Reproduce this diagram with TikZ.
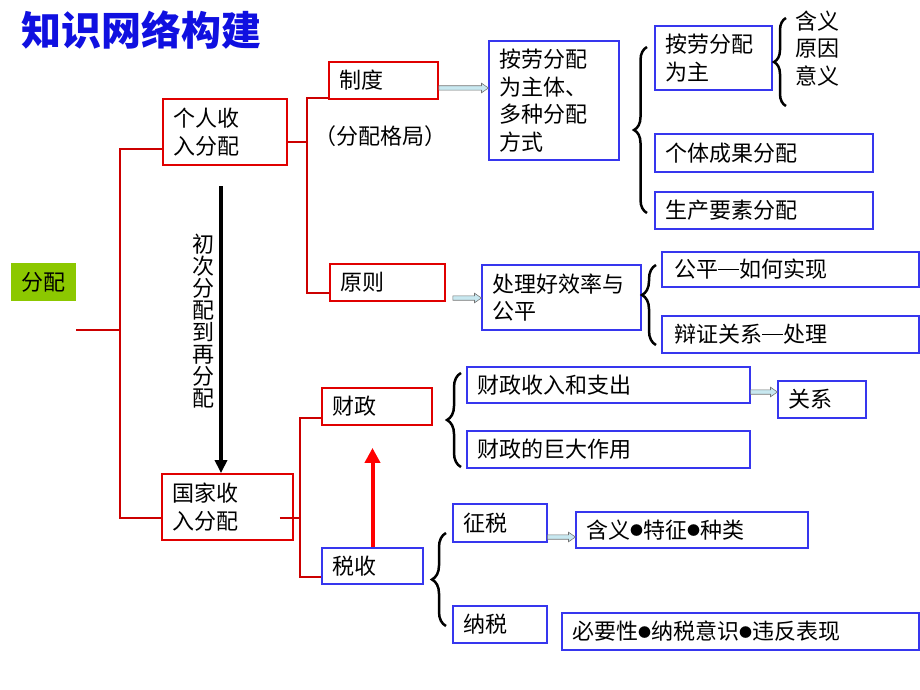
\documentclass[tikz,border=0pt]{standalone}
\usepackage{fontspec}
\setmainfont{Noto Sans CJK SC}
\usetikzlibrary{arrows.meta,calc,decorations.pathreplacing}
\definecolor{lred}{HTML}{CC0000}
\definecolor{bred}{HTML}{E00000}
\definecolor{bblue}{HTML}{3636EE}
\definecolor{fgreen}{HTML}{8CC800}
\definecolor{tblue}{HTML}{1010E0}
\definecolor{afill}{HTML}{C8E8F0}
\newcommand{\mydot}{\raisebox{2.5pt}{\fontsize{13}{13}\selectfont ●}}
\newcommand{\mydash}{\rule[7.5pt]{21pt}{1.8pt}}
\begin{document}
\begin{tikzpicture}[x=1pt,y=-1pt,
  txt/.style={font=\fontsize{22}{27.5}\selectfont},
  box/.style={txt, draw, inner xsep=10pt, inner ysep=0pt, align=left, anchor=center},
  rbox/.style={box, draw=bred, line width=1.8pt},
  bbox/.style={box, draw=bblue, line width=1.1pt},
  redline/.style={draw=lred, line width=2.3pt},
  bracestyle/.style={draw=black, line width=2.5pt, decorate, decoration={brace, amplitude=13pt}},
  blockarrow/.style={draw=black!55, fill=afill, line width=0.6pt, to path={
    let \p1=(\tikztostart), \p2=(\tikztotarget) in
    (\x1,\y1+2.2pt) -- (\x2-7pt,\y1+2.2pt) -- (\x2-7pt,\y1+4.8pt) -- (\x2,\y1)
    -- (\x2-7pt,\y1-4.8pt) -- (\x2-7pt,\y1-2.2pt) -- (\x1,\y1-2.2pt) -- cycle}},
  blackarrow/.style={draw=black, line width=3.5pt, -{Triangle[length=13pt,width=12pt]}},
  redarrow/.style={draw=red, line width=4pt, -{Triangle[length=15pt,width=15pt]}}
]
\useasboundingbox (0,0) rectangle (920,690);

% title
\node[anchor=west, inner sep=0, text=tblue, font=\fontsize{40}{40}\selectfont\bfseries] (title) at (21,30) {知识网络构建};

% root
\node[txt, fill=fgreen, minimum width=65pt, minimum height=38pt, inner sep=0] (fp) at (43.5,282) {分配};

% red boxes
\node[rbox, text width=104pt, minimum height=66pt] (gr) at (225,132) {个人收\\入分配};
\node[rbox, text width=111pt, minimum height=66pt] (gj) at (227.5,507) {国家收\\入分配};
\node[rbox, text width=89pt, minimum height=37pt] (zd) at (383.5,80.5) {制度};
\node[rbox, text width=95pt, minimum height=37pt] (yz) at (387.5,282.5) {原则};
\node[rbox, text width=90pt, minimum height=37pt] (cz) at (377,406.5) {财政};

% blue boxes
\node[bbox, text width=81pt, minimum height=36pt] (ss) at (372.5,566) {税收};
\node[bbox, text width=110pt, minimum height=119pt] (al) at (554,100.5) {按劳分配\\为主体、\\多种分配\\方式};
\node[bbox, text width=97pt, minimum height=64pt] (lz) at (713.5,58) {按劳分配\\为主};
\node[bbox, text width=198pt, minimum height=38pt] (gt) at (764,153) {个体成果分配};
\node[bbox, text width=198pt, minimum height=37pt] (sc) at (764,210.5) {生产要素分配};
\node[bbox, text width=139pt, minimum height=65pt] (cl) at (561.5,297.5) {处理好效率与\\公平};
\node[bbox, inner xsep=12pt, text width=233pt, minimum height=35pt] (gp) at (790.5,269.5) {公平\mydash 如何实现};
\node[bbox, inner xsep=12pt, text width=233pt, minimum height=37pt] (bz) at (790.5,334.5) {辩证关系\mydash 处理};
\node[bbox, text width=263pt, minimum height=36pt] (sr) at (608.5,385) {财政收入和支出};
\node[bbox, text width=263pt, minimum height=37pt] (zy) at (608.5,449.5) {财政的巨大作用};
\node[bbox, text width=68pt, minimum height=37pt] (gx) at (822,399.5) {关系};
\node[bbox, text width=74pt, minimum height=38pt] (zs) at (500,523) {征税};
\node[bbox, text width=212pt, minimum height=36pt] (hy) at (692,530) {含义\mydot 特征\mydot 种类};
\node[bbox, text width=74pt, minimum height=37pt] (ns) at (500,624.5) {纳税};
\node[bbox, text width=337pt, minimum height=37pt] (by) at (740.5,631.5) {必要性\mydot 纳税意识\mydot 违反表现};

% free texts
\node[txt, inner sep=0] (gj2) at (380,136) {（分配格局）};
\node[txt, inner sep=0, anchor=west, align=left] (hyy) at (795,48.5) {含义\\原因\\意义};
\node[inner sep=0, align=center, font=\fontsize{22}{22}\selectfont] (ccf) at (203,321) {初\\次\\分\\配\\到\\再\\分\\配};

% red tree lines
\coordinate (c0) at (76,330);
\coordinate (j0) at (120,330);
\coordinate (j1) at (307,142);
\coordinate (j2) at (300,518);
\draw[redline] (c0) -- (j0);
\draw[redline] ([yshift=-17pt]gr.west) -| (j0) |- ([yshift=-11pt]gj.west);
\draw[redline] ([yshift=-10pt]gr.east) -- (j1);
\draw[redline] ([yshift=-17.5pt]zd.west) -| (j1) |- ([yshift=-10.5pt]yz.west);
\draw[redline] ([xshift=-14pt,yshift=-11pt]gj.east) -- (j2);
\draw[redline] ([yshift=-11.5pt]cz.west) -| (j2) |- ([yshift=-11pt]ss.west);

% vertical arrows
\coordinate (ba) at (221,186);
\draw[blackarrow] (ba) -- (ba |- gj.north);
\coordinate (rt) at ([yshift=-22pt]cz.south);
\draw[redarrow] (ss.north) -- (ss.north |- rt);

% block arrows
\draw[blockarrow] ([yshift=-7.5pt]zd.east) to (al.west);
\draw[blockarrow] ([xshift=7pt,yshift=-15.5pt]yz.east) to (cl.west);
\draw[blockarrow] ([yshift=-7pt]sr.east) to (gx.west);
\draw[blockarrow] ([yshift=-14pt]zs.east) to (hy.west);

% braces
\draw[bracestyle] (647,213) -- (647,47);
\draw[bracestyle, decoration={brace, amplitude=12pt}] (786,106) -- (786,18);
\draw[bracestyle, decoration={brace, amplitude=14pt, aspect=0.625}] (656,345) -- (656,265);
\draw[bracestyle, decoration={brace, amplitude=14pt}] (461,467) -- (461,373);
\draw[bracestyle, decoration={brace, amplitude=14pt}] (446,626) -- (446,533);
\end{tikzpicture}
\end{document}
